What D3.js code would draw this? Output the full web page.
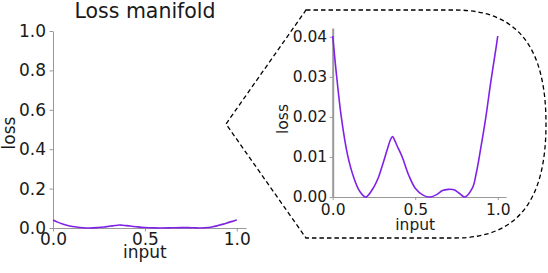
<!DOCTYPE html>
<html>
<head>
<meta charset="utf-8">
<script src="https://cdn.jsdelivr.net/npm/d3@7"></script>
<style>
    body { margin: 0; background: #fff; }
    svg { display: block; font-family: "DejaVu Sans", sans-serif; }
</style>
</head>
<body>
<svg id="chart" width="548" height="273"></svg>
<script>
// data
const inputs = [0, 0.02, 0.052, 0.09, 0.128, 0.164, 0.2, 0.245, 0.278, 0.298, 0.308, 0.33, 0.35, 0.363, 0.375,
    0.39, 0.42, 0.46, 0.5, 0.55, 0.59, 0.63, 0.665, 0.7, 0.735, 0.765, 0.8, 0.846, 0.87, 0.897, 0.927, 0.957, 0.988, 1.0];
const lossValues = [0.0402, 0.0317, 0.0200, 0.0105, 0.0048, 0.0014, 0, 0.0022, 0.0050, 0.0075, 0.0088, 0.0118,
    0.0143, 0.0151, 0.0142, 0.0128, 0.0101, 0.0055, 0.0022, 0.0004, 0, 0.0006, 0.0016, 0.0019, 0.0018, 0.001, 0,
    0.0022, 0.006, 0.0122, 0.0197, 0.0285, 0.0368, 0.0402];
const xTicks = [0, 0.5, 1.0];
const yTicksFull = [0, 0.2, 0.4, 0.6, 0.8, 1.0];
const yTicksZoom = [0, 0.01, 0.02, 0.03, 0.04];

const points = inputs.map((x, i) => ({x: x, v: lossValues[i]}));
const lineColor = '#7f22e6';
const spineColor = '#999';
const textColor = '#1a1a1a';

const svg = d3.select('#chart');

function drawPanel(opt) {
    const g = svg.append('g');
    const x = d3.scaleLinear().domain([0, 1.05]).range([opt.left, opt.right]);
    const y = d3.scaleLinear().domain([0, opt.ymax]).range([opt.bottom, opt.top]);

    const ax = g.append('g').attr('transform', `translate(0,${opt.bottom})`)
        .call(d3.axisBottom(x).tickValues(xTicks).tickFormat(d3.format('.1f'))
            .tickSize(opt.tick).tickSizeOuter(0).tickPadding(opt.xpad));
    const ay = g.append('g').attr('transform', `translate(${opt.left},0)`)
        .call(d3.axisLeft(y).tickValues(opt.yticks).tickFormat(d3.format(opt.yfmt))
            .tickSize(opt.tick).tickSizeOuter(0).tickPadding(opt.ypad));
    [ax, ay].forEach(a => {
        a.selectAll('text').attr('fill', textColor).style('font-size', opt.font + 'px')
            .style('font-family', '"DejaVu Sans", sans-serif');
        a.selectAll('line').attr('stroke', spineColor);
        a.select('.domain').attr('stroke', spineColor);
    });
    ay.select('.domain').attr('stroke-width', opt.yspine);

    g.append('path').datum(points)
        .attr('fill', 'none')
        .attr('stroke', lineColor)
        .attr('stroke-width', 1.6)
        .attr('d', d3.line().x(d => x(d.x)).y(d => y(d.v)).curve(d3.curveCatmullRom.alpha(0.5)));

    g.append('text').attr('x', x(0.5)).attr('y', opt.xlabelY)
        .attr('text-anchor', 'middle').attr('fill', textColor)
        .style('font-size', opt.labelFont + 'px').text('input');
    g.append('text')
        .attr('transform', `translate(${opt.ylabelX},${opt.ylabelY}) rotate(-90)`)
        .attr('text-anchor', 'middle').attr('fill', textColor)
        .style('font-size', opt.labelFont + 'px').text('loss');
    return {x, y};
}

// full view
drawPanel({
    left: 53, right: 246, top: 31, bottom: 228, ymax: 1,
    yticks: yTicksFull, yfmt: '.1f', tick: 3.5, xpad: 1.5, ypad: 3.5,
    font: 17, labelFont: 17, yspine: 1,
    xlabelY: 258, ylabelX: 15, ylabelY: 133
});

svg.append('text').attr('x', 145).attr('y', 18)
    .attr('text-anchor', 'middle').attr('fill', textColor)
    .style('font-size', '20.5px').text('Loss manifold');

// zoom callout outline
svg.append('path')
    .attr('d', 'M306,10 L455,10 C520,10 546,50 546,124 C546,198 520,238 455,238 L306,238 L226,124 Z')
    .attr('fill', 'none')
    .attr('stroke', '#000')
    .attr('stroke-width', 1.3)
    .attr('stroke-dasharray', '4.5,3');

// zoomed view
drawPanel({
    left: 332.7, right: 506, top: 28, bottom: 197, ymax: 0.0422,
    yticks: yTicksZoom, yfmt: '.2f', tick: 3, xpad: 3.5, ypad: 2.5,
    font: 15.5, labelFont: 15.5, yspine: 2,
    xlabelY: 230, ylabelX: 288, ylabelY: 119
});
</script>
</body>
</html>
